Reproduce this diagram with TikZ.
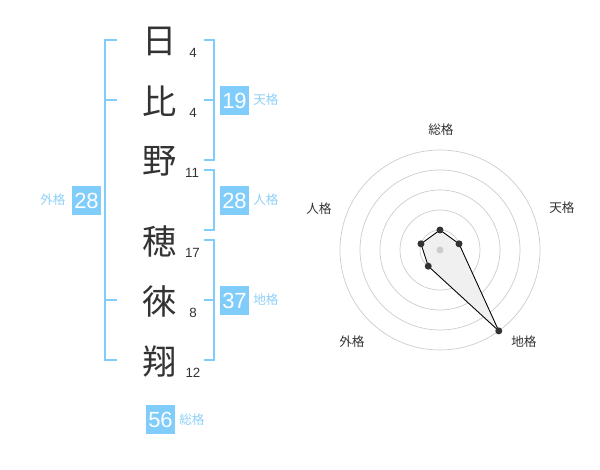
\documentclass[tikz,border=0pt]{standalone}
\usepackage{fontspec}
\setmainfont{Liberation Sans}
\newfontfamily\jp{Noto Sans CJK JP}
\usepackage{xcolor}
\usetikzlibrary{positioning}
\definecolor{celeste}{HTML}{80CCFA}
\definecolor{celestetxt}{HTML}{8ED0F6}
\definecolor{tinta}{HTML}{333333}
\definecolor{rejilla}{HTML}{CCCCCC}

\begin{document}
\begin{tikzpicture}[x=0.02cm, y=-0.02cm,
    kanji/.style={font=\jp\fontsize{19.5}{19.5}\selectfont, text=tinta, inner sep=0pt},
    trazos/.style={font=\fontsize{7.6}{7.6}\selectfont, text=tinta, inner sep=0pt},
    caja/.style={fill=celeste, text=white, minimum size=0.58cm, inner sep=0pt, font=\fontsize{12.5}{12.5}\selectfont},
    kaku/.style={text=celestetxt, font=\jp\fontsize{7.2}{7.2}\selectfont, inner sep=0pt},
    eje/.style={text=tinta, font=\jp\fontsize{7.2}{7.2}\selectfont, inner sep=0pt},
    llave/.style={draw=celeste, line width=1.1pt},
    punto/.style={circle, fill=tinta, inner sep=0pt, minimum size=0.14cm}]
    \useasboundingbox (0,0) rectangle (600,470);

    % Nombre
    \node[kanji] (k1) at (160,41.5) {日};
    \node[kanji] (k2) at (160,101.5) {比};
    \node[kanji] (k3) at (160,161.5) {野};
    \node[kanji] (k4) at (160,241.5) {穂};
    \node[kanji] (k5) at (160,301.5) {徠};
    \node[kanji] (k6) at (160,361.5) {翔};

    \node[trazos] (t1) at (193,53) {4};
    \node[trazos] (t2) at (193,113) {4};
    \node[trazos] (t3) at (192,173) {11};
    \node[trazos] (t4) at (192.5,253) {17};
    \node[trazos] (t5) at (193,313) {8};
    \node[trazos] (t6) at (193,373) {12};

    % Llaves
    \coordinate (a1) at (117,40);  \coordinate (a2) at (105,40);
    \coordinate (a3) at (105,360); \coordinate (a4) at (117,360);
    \coordinate (a5) at (105,100); \coordinate (a6) at (117,100);
    \coordinate (a7) at (105,300); \coordinate (a8) at (117,300);
    \draw[llave] (a1) -- (a2) -- (a3) -- (a4);
    \draw[llave] (a5) -- (a6);
    \draw[llave] (a7) -- (a8);

    \coordinate (b1) at (204,40);  \coordinate (b2) at (214,40);
    \coordinate (b3) at (214,160); \coordinate (b4) at (204,160);
    \coordinate (b5) at (214,100); \coordinate (b6) at (204,100);
    \draw[llave] (b1) -- (b2) -- (b3) -- (b4);
    \draw[llave] (b5) -- (b6);

    \coordinate (c1) at (204,170); \coordinate (c2) at (214,170);
    \coordinate (c3) at (214,230); \coordinate (c4) at (204,230);
    \draw[llave] (c1) -- (c2) -- (c3) -- (c4);

    \coordinate (d1) at (204,240); \coordinate (d2) at (214,240);
    \coordinate (d3) at (214,360); \coordinate (d4) at (204,360);
    \coordinate (d5) at (214,300); \coordinate (d6) at (204,300);
    \draw[llave] (d1) -- (d2) -- (d3) -- (d4);
    \draw[llave] (d5) -- (d6);

    % Cajas
    \node[caja] (ten) at (234.5,100.5) {19};
    \node[kaku] at (266,100) {天格};
    \node[caja] (jin) at (234.5,200.5) {28};
    \node[kaku] at (266,200) {人格};
    \node[caja] (chi) at (234.5,300.5) {37};
    \node[kaku] at (266,300) {地格};
    \node[caja] (gai) at (86.5,200.5) {28};
    \node[kaku] at (53,200) {外格};
    \node[caja] (sou) at (160.5,419.5) {56};
    \node[kaku] at (192,420) {総格};

    % Radar
    \begin{scope}[shift={(440,250)}, yscale=-1]
      \foreach \r in {20,40,60,80,100}
        \draw[rejilla, line width=0.4pt] (0,0) circle [radius=\r];
      \coordinate (p1) at (90:20);
      \coordinate (p2) at (18:20);
      \coordinate (p3) at (-54:100);
      \coordinate (p4) at (-126:20);
      \coordinate (p5) at (162:20);
      \fill[black!6] (p1) -- (p2) -- (p3) -- (p4) -- (p5) -- cycle;
      \fill[rejilla] (0,0) circle [radius=3.5];
      \draw[black, line width=0.5pt] (p1) -- (p2) -- (p3) -- (p4) -- (p5) -- cycle;
      \foreach \p in {p1,p2,p3,p4,p5}
        \node[punto] at (\p) {};
    \end{scope}
    \node[eje] (e1) at (441,130) {総格};
    \node[eje] (e2) at (562,208) {天格};
    \node[eje] (e3) at (524,342) {地格};
    \node[eje] (e4) at (352,342) {外格};
    \node[eje] (e5) at (319,209) {人格};
\end{tikzpicture}
\end{document}
